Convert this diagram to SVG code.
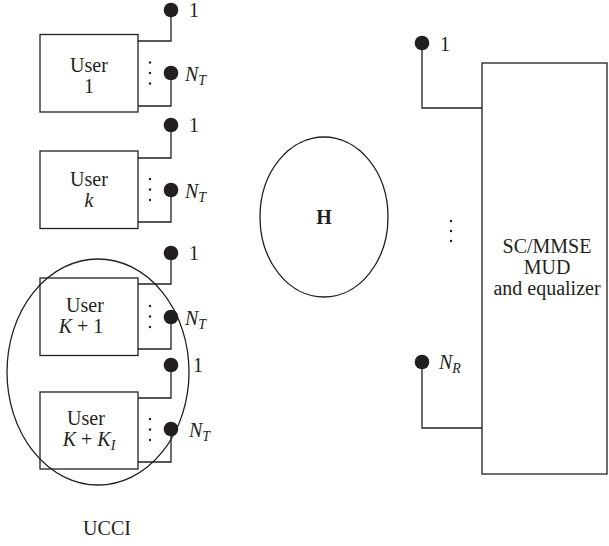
<svg xmlns="http://www.w3.org/2000/svg" width="609" height="546" viewBox="0 0 609 546">
<style>
  .box{fill:none;stroke:#231f20;stroke-width:1.3}
  .ln{fill:none;stroke:#231f20;stroke-width:1.3}
  .dot{fill:#231f20}
  .sd{fill:#231f20}
  text{font-family:"Liberation Serif","Times New Roman",serif;font-size:20px;fill:#231f20}
  .c{text-anchor:middle}
  .i{font-style:italic}
  .sub{font-size:14px;font-style:italic}
</style>
<rect width="609" height="546" fill="#fff"/>

<g id="user1">
  <rect class="box" x="40" y="34.5" width="98" height="77.5"/>
  <text class="c" x="89" y="72">User</text>
  <text class="c" x="89" y="93">1</text>
  <circle class="sd" cx="150" cy="62.5" r="1.2"/><circle class="sd" cx="150" cy="73" r="1.2"/><circle class="sd" cx="150" cy="83.5" r="1.2"/>
  <circle class="dot" cx="171" cy="10" r="7.3"/>
  <text x="189" y="17">1</text>
  <circle class="dot" cx="171" cy="73" r="7.3"/>
  <text x="185" y="81" class="i">N<tspan class="sub" dy="4">T</tspan></text>
</g>

<g id="userk">
  <rect class="box" x="40" y="151" width="98" height="77.5"/>
  <text class="c" x="89" y="186">User</text>
  <text class="c i" x="89" y="207">k</text>
  <circle class="sd" cx="150" cy="179" r="1.2"/><circle class="sd" cx="150" cy="189.5" r="1.2"/><circle class="sd" cx="150" cy="200" r="1.2"/>
  <circle class="dot" cx="171" cy="125" r="7.3"/>
  <text x="189" y="132">1</text>
  <circle class="dot" cx="171" cy="190" r="7.3"/>
  <text x="185" y="198" class="i">N<tspan class="sub" dy="4">T</tspan></text>
</g>

<g id="userK1">
  <rect class="box" x="40" y="278" width="98" height="77.5"/>
  <text class="c" x="85" y="312">User</text>
  <text class="c" x="81" y="333"><tspan class="i">K</tspan> + 1</text>
  <circle class="sd" cx="150" cy="306" r="1.2"/><circle class="sd" cx="150" cy="316.5" r="1.2"/><circle class="sd" cx="150" cy="327" r="1.2"/>
  <circle class="dot" cx="171" cy="253" r="7.3"/>
  <text x="189" y="260">1</text>
  <circle class="dot" cx="171" cy="317" r="7.3"/>
  <text x="185" y="325" class="i">N<tspan class="sub" dy="4">T</tspan></text>
</g>

<g id="userKKI">
  <rect class="box" x="40" y="392" width="98" height="77"/>
  <text class="c" x="86" y="425">User</text>
  <text class="c" x="89" y="446"><tspan class="i">K</tspan> + <tspan class="i">K</tspan><tspan class="sub" dy="4">I</tspan></text>
  <circle class="sd" cx="150" cy="419" r="1.2"/><circle class="sd" cx="150" cy="429.5" r="1.2"/><circle class="sd" cx="150" cy="440" r="1.2"/>
  <circle class="dot" cx="171" cy="365" r="7.3"/>
  <text x="193" y="372">1</text>
  <circle class="dot" cx="171" cy="429" r="7.3"/>
  <text x="189" y="437" class="i">N<tspan class="sub" dy="4">T</tspan></text>
</g>

<g id="ucci">
  <ellipse class="ln" cx="98" cy="372" rx="91" ry="113"/>
  <text class="c" x="107" y="535">UCCI</text>
</g>

<g id="channelH">
  <ellipse class="ln" cx="324" cy="217" rx="64" ry="80"/>
  <text class="c" x="324" y="224" font-weight="bold">H</text>
</g>

<g id="receiver">
  <rect class="box" x="482" y="63" width="125" height="411"/>
  <text class="c" x="547" y="253">SC/MMSE</text>
  <text class="c" x="547" y="274">MUD</text>
  <text class="c" x="547" y="295">and equalizer</text>
  <circle class="dot" cx="422" cy="43" r="7.3"/>
  <text x="440" y="51">1</text>
  <circle class="sd" cx="451" cy="221" r="1.2"/><circle class="sd" cx="451" cy="231" r="1.2"/><circle class="sd" cx="451" cy="241" r="1.2"/>
  <circle class="dot" cx="422" cy="362" r="7.3"/>
  <text x="439" y="369" class="i">N<tspan class="sub" dy="4">R</tspan></text>
</g>

<g id="connectors">
  <polyline class="ln" points="171,10 171,41 138,41"/>
  <polyline class="ln" points="171,73 171,106 138,106"/>
  <polyline class="ln" points="171,125 171,158 138,158"/>
  <polyline class="ln" points="171,190 171,222 138,222"/>
  <polyline class="ln" points="171,253 171,284 138,284"/>
  <polyline class="ln" points="171,317 171,349 138,349"/>
  <polyline class="ln" points="171,365 171,398 138,398"/>
  <polyline class="ln" points="171,429 171,462 138,462"/>
  <polyline class="ln" points="422,43 422,108 482,108"/>
  <polyline class="ln" points="422,362 422,428 482,428"/>
</g>
</svg>
